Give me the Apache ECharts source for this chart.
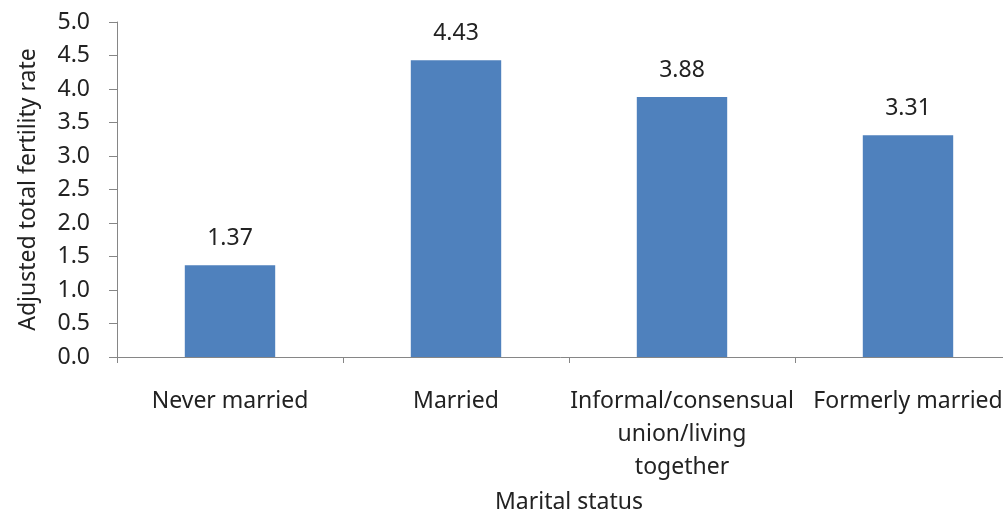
<!DOCTYPE html>
<html><head><meta charset="utf-8">
<script src="https://cdn.jsdelivr.net/npm/echarts@6/dist/echarts.min.js"></script>
<style>html,body{margin:0;padding:0;background:#fff}#c{width:1003px;height:510px}</style>
</head><body><div id="c"></div>
<script>
const categories = ["Never married", "Married", "Informal/consensual\nunion/living\ntogether", "Formerly married"];
const values = [1.37, 4.43, 3.88, 3.31];
const yTicks = {min: 0, max: 5, interval: 0.5};
const FONT = "Noto Sans";
const FS = 23;
const chart = echarts.init(document.getElementById('c'), null, {renderer: 'canvas'});
chart.setOption({
  animation: false,
  textStyle: {fontFamily: FONT},
  grid: {left: 117, right: -18, top: 22, bottom: 153, containLabel: false, outerBoundsMode: 'none'},
  xAxis: {
    type: 'category', data: categories,
    name: 'Marital status', nameLocation: 'middle', nameGap: 134,
    nameTextStyle: {fontSize: FS, color: '#222', fontFamily: FONT},
    axisLine: {lineStyle: {color: '#868686', width: 1}},
    axisTick: {show: true, length: 6, lineStyle: {color: '#868686'}},
    axisLabel: {fontSize: FS, color: '#222', margin: 28, lineHeight: 33, fontFamily: FONT, interval: 0}
  },
  yAxis: {
    type: 'value', min: yTicks.min, max: yTicks.max, interval: yTicks.interval,
    name: 'Adjusted total fertility rate', nameLocation: 'middle', nameGap: 77, nameRotate: 90,
    nameTextStyle: {fontSize: FS, color: '#222', fontFamily: FONT},
    axisLine: {show: true, lineStyle: {color: '#868686', width: 1}},
    axisTick: {show: true, length: 8, lineStyle: {color: '#868686'}},
    splitLine: {show: false},
    axisLabel: {fontSize: FS, color: '#222', margin: 27, fontFamily: FONT,
      formatter: v => v.toFixed(1)}
  },
  series: [{
    type: 'bar', data: values, barWidth: '40%',
    itemStyle: {color: '#4F81BD'},
    label: {show: true, position: 'top', distance: 15, fontSize: FS, color: '#222', fontFamily: FONT,
      formatter: p => p.value.toFixed(2)}
  }]
});
</script></body></html>
